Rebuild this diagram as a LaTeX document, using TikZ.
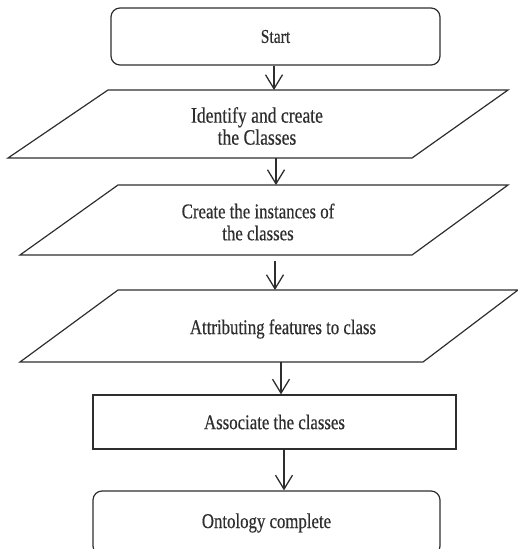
\documentclass[tikz,border=0pt]{standalone}
\usepackage{fontspec}
\setmainfont{Liberation Serif}
\newfontfamily\boxfont{Liberation Serif}[FakeStretch=0.8,FakeBold=0.4]
\usetikzlibrary{arrows.meta}
\definecolor{ink}{HTML}{2E2E2E}
\begin{document}
\begin{tikzpicture}[x=1pt,y=-1pt,
  outline/.style={draw=ink, line width=1.2pt},
  terminal/.style={outline, rounded corners=9pt, inner sep=0pt,
    font=\boxfont\fontsize{19.5}{22}\selectfont, text=ink},
  process/.style={outline, inner sep=0pt,
    font=\boxfont\fontsize{21}{22}\selectfont, text=ink},
  caption/.style={align=center, inner sep=0pt,
    font=\boxfont\fontsize{21}{22}\selectfont, text=ink},
  flow/.style={draw=ink, line width=1.3pt,
    -{Straight Barb[length=14pt,width=17pt,line width=1.3pt]}},
]
\useasboundingbox (0,0) rectangle (518,549);
\begin{scope}
\clip (0,0) rectangle (518,549);

% terminal: start
\node[terminal, minimum width=329pt, minimum height=57pt] (start) at (275.5,36.5) {Start};

% input/output steps (parallelograms)
\draw[outline] (108,90) -- (508,90) -- (412,158) -- (8,158) -- cycle;
\node[caption, font=\boxfont\fontsize{22}{22}\selectfont] (io1) at (257,126) {Identify and create\\ the Classes};
\coordinate (io1top) at (274,90);
\coordinate (io1bot) at (276,158);

\draw[outline] (118,185) -- (508,185) -- (412,255) -- (20,255) -- cycle;
\node[caption] (io2) at (258,222) {Create the instances of\\the classes};
\coordinate (io2top) at (276,185);
\coordinate (io2bot) at (275,255);

\draw[outline] (118,290) -- (518,290) -- (423,362) -- (20,362) -- cycle;
\node[caption] (io3) at (283,329) {Attributing features to class};
\coordinate (io3top) at (275,290);
\coordinate (io3bot) at (281,362);

% process step
\node[process, minimum width=363pt, minimum height=54pt] (assoc) at (274.5,422) {Associate the classes};
\coordinate (assocbot) at (284,449);

% terminal: end
\node[terminal, minimum width=347pt, minimum height=64pt,
  font=\boxfont\fontsize{21}{22}\selectfont] (done) at (266.5,523) {Ontology complete};

% connectors
\draw[flow] (start.south -| io1top) -- (io1top);
\draw[flow] (io1bot) -- (io2top);
\draw[flow, shorten <=6pt] (io2bot) -- (io3top -| io2bot);
\draw[flow] (io3bot) -- (assoc.north -| io3bot);
\draw[flow] (assocbot) -- (done.north -| assocbot);
\end{scope}
\end{tikzpicture}
\end{document}
